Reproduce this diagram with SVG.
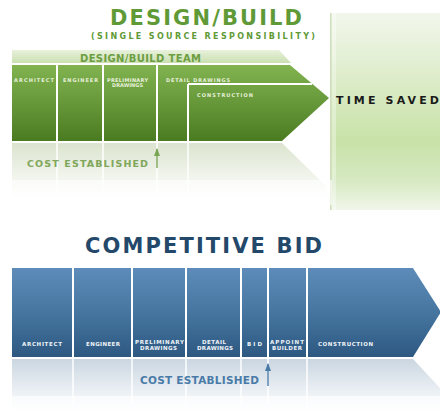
<svg xmlns="http://www.w3.org/2000/svg" width="440" height="413" viewBox="0 0 440 413">
<defs>
<linearGradient id="gPanel" x1="0" y1="0" x2="0" y2="1">
<stop offset="0" stop-color="#f2f7ec"/>
<stop offset="0.3" stop-color="#dfedcd"/>
<stop offset="0.65" stop-color="#c8e2a8"/>
<stop offset="0.85" stop-color="#d6e9c2"/>
<stop offset="1" stop-color="#f1f6ea"/>
</linearGradient>
<linearGradient id="gBand" x1="0" y1="0" x2="0" y2="1">
<stop offset="0" stop-color="#e8f1dc"/>
<stop offset="1" stop-color="#cadfb0"/>
</linearGradient>
<linearGradient id="gGreen" x1="0" y1="0" x2="0" y2="1">
<stop offset="0" stop-color="#82b350"/>
<stop offset="0.5" stop-color="#66983a"/>
<stop offset="1" stop-color="#4b7b20"/>
</linearGradient>
<linearGradient id="gGreenRef" x1="0" y1="0" x2="0" y2="1">
<stop offset="0" stop-color="#dbe4cf"/>
<stop offset="0.5" stop-color="#eef2e8"/>
<stop offset="1" stop-color="#ffffff"/>
</linearGradient>
<linearGradient id="gBlue" x1="0" y1="0" x2="0" y2="1">
<stop offset="0" stop-color="#5d8cba"/>
<stop offset="0.5" stop-color="#46769f"/>
<stop offset="1" stop-color="#2d5882"/>
</linearGradient>
<linearGradient id="gBlueRef" x1="0" y1="0" x2="0" y2="1">
<stop offset="0" stop-color="#cbd6e1"/>
<stop offset="0.5" stop-color="#e6ecf1"/>
<stop offset="1" stop-color="#ffffff"/>
</linearGradient>
<marker id="upG" viewBox="0 0 8 6" refX="7" refY="3" markerWidth="8" markerHeight="6" markerUnits="userSpaceOnUse" orient="auto">
<path d="M0,0 L8,3 L0,6 Z" fill="#7aa552"/>
</marker>
<marker id="upB" viewBox="0 0 8 6" refX="7" refY="3" markerWidth="8" markerHeight="6" markerUnits="userSpaceOnUse" orient="auto">
<path d="M0,0 L8,3 L0,6 Z" fill="#4a7ba8"/>
</marker>
</defs>
<style>
text { font-family: "DejaVu Sans", "Liberation Sans", sans-serif; font-weight: bold; }
.gTitle { fill: #5f9a37; }
.bTitle { fill: #24486a; }
.lblG { fill: #e6f0da; font-size: 5px; }
.lblB { fill: #eef3f8; font-size: 5.5px; }
.sep { stroke: #ffffff; stroke-width: 2; }
.sepF { stroke: #ffffff; stroke-width: 2; opacity: 0.75; }
.costG { fill: #7fa65a; font-size: 9.5px; }
.costB { fill: #4a7ba8; font-size: 10.5px; }
</style>

<rect width="440" height="413" fill="#ffffff"/>

<g id="time-saved-panel">
<rect x="330" y="13" width="110" height="197" fill="url(#gPanel)"/>
<rect x="330" y="13" width="1.5" height="197" fill="#cfdfbe"/>
<rect x="332" y="13" width="4" height="197" fill="#ffffff" opacity="0.35"/>
<text x="336" y="104" font-size="11" fill="#1a1a1a" textLength="103" lengthAdjust="spacing">TIME SAVED</text>
</g>

<g id="design-build-title">
<text class="gTitle" x="110" y="25" font-size="21" textLength="192" lengthAdjust="spacing">DESIGN/BUILD</text>
<text class="gTitle" x="91" y="38.5" font-size="8" textLength="224" lengthAdjust="spacing">(SINGLE SOURCE RESPONSIBILITY)</text>
</g>

<g id="design-build-team">
<path d="M12,50 L279,50 L291,63 L12,63 Z" fill="url(#gBand)"/>
<text x="80" y="61.5" font-size="10" fill="#6c9e42" textLength="121" lengthAdjust="spacing">DESIGN/BUILD TEAM</text>
</g>

<g id="design-build-reflection">
<path d="M12,143 L282,143 L326,186 L326,200 L12,200 Z" fill="url(#gGreenRef)"/>
<line class="sepF" x1="57" y1="143" x2="57" y2="192"/>
<line class="sepF" x1="103" y1="143" x2="103" y2="192"/>
<line class="sepF" x1="157" y1="143" x2="157" y2="192"/>
<line class="sepF" x1="188" y1="143" x2="188" y2="192"/>
<rect x="12" y="180" width="320" height="25" fill="#ffffff" opacity="0.6"/>
<text class="costG" x="27" y="166.5" textLength="121" lengthAdjust="spacing">COST ESTABLISHED</text>
</g>

<g id="design-build-arrow">
<path d="M12,65 L290,65 L329,98 L282,141 L12,141 Z" fill="url(#gGreen)"/>
<line class="sep" x1="57" y1="65" x2="57" y2="141"/>
<line class="sep" x1="103" y1="65" x2="103" y2="141"/>
<line class="sep" x1="157" y1="65" x2="157" y2="141"/>
<line class="sep" x1="188" y1="84" x2="188" y2="141"/>
<line class="sep" x1="188" y1="84" x2="312" y2="84" stroke-width="1.6"/>
</g>

<g id="node-architect-g"><text class="lblG" x="14" y="81.5" textLength="40" lengthAdjust="spacing">ARCHITECT</text></g>
<g id="node-engineer-g"><text class="lblG" x="63" y="81.5" textLength="35" lengthAdjust="spacing">ENGINEER</text></g>
<g id="node-prelim-g">
<text class="lblG" x="107" y="81.5" textLength="41" lengthAdjust="spacing">PRELIMINARY</text>
<text class="lblG" x="112" y="87.3" textLength="31" lengthAdjust="spacing">DRAWINGS</text>
</g>
<g id="node-detail-g"><text class="lblG" x="166" y="81.5" textLength="64" lengthAdjust="spacing">DETAIL DRAWINGS</text></g>
<g id="node-construction-g"><text class="lblG" x="197" y="96.7" textLength="56" lengthAdjust="spacing">CONSTRUCTION</text></g>

<g id="competitive-bid-title">
<text class="bTitle" x="85" y="253" font-size="21" textLength="237" lengthAdjust="spacing">COMPETITIVE BID</text>
</g>

<g id="competitive-bid-reflection">
<path d="M12,359 L413,359 L440,388 L440,413 L12,413 Z" fill="url(#gBlueRef)"/>
<line class="sepF" x1="73" y1="359" x2="73" y2="406"/>
<line class="sepF" x1="132" y1="359" x2="132" y2="406"/>
<line class="sepF" x1="186" y1="359" x2="186" y2="406"/>
<line class="sepF" x1="241" y1="359" x2="241" y2="406"/>
<line class="sepF" x1="268" y1="359" x2="268" y2="406"/>
<line class="sepF" x1="307" y1="359" x2="307" y2="406"/>
<rect x="12" y="396" width="428" height="17" fill="#ffffff" opacity="0.6"/>
<text class="costB" x="140" y="384" textLength="119" lengthAdjust="spacing">COST ESTABLISHED</text>
</g>

<g id="competitive-bid-arrow">
<path d="M12,268 L413,268 L441,312 L413,357 L12,357 Z" fill="url(#gBlue)"/>
<line class="sep" x1="73" y1="268" x2="73" y2="357"/>
<line class="sep" x1="132" y1="268" x2="132" y2="357"/>
<line class="sep" x1="186" y1="268" x2="186" y2="357"/>
<line class="sep" x1="241" y1="268" x2="241" y2="357"/>
<line class="sep" x1="268" y1="268" x2="268" y2="357"/>
<line class="sep" x1="307" y1="268" x2="307" y2="357"/>
</g>

<g id="node-architect-b"><text class="lblB" x="22" y="346" textLength="40" lengthAdjust="spacing">ARCHITECT</text></g>
<g id="node-engineer-b"><text class="lblB" x="86" y="346" textLength="34" lengthAdjust="spacing">ENGINEER</text></g>
<g id="node-prelim-b">
<text class="lblB" x="135" y="344" textLength="49" lengthAdjust="spacing">PRELIMINARY</text>
<text class="lblB" x="140" y="349.5" textLength="37" lengthAdjust="spacing">DRAWINGS</text>
</g>
<g id="node-detail-b">
<text class="lblB" x="202" y="344" textLength="24" lengthAdjust="spacing">DETAIL</text>
<text class="lblB" x="197" y="349.5" textLength="36" lengthAdjust="spacing">DRAWINGS</text>
</g>
<g id="node-bid-b"><text class="lblB" x="247" y="346" textLength="15" lengthAdjust="spacing">BID</text></g>
<g id="node-appoint-b">
<text class="lblB" x="270" y="344" textLength="34" lengthAdjust="spacing">APPOINT</text>
<text class="lblB" x="272" y="349.5" textLength="30" lengthAdjust="spacing">BUILDER</text>
</g>
<g id="node-construction-b"><text class="lblB" x="318" y="346" textLength="55" lengthAdjust="spacing">CONSTRUCTION</text></g>

<g id="connectors">
<line x1="157" y1="168" x2="157" y2="149" stroke="#7aa552" stroke-width="1.4" marker-end="url(#upG)"/>
<line x1="268" y1="386" x2="268" y2="364" stroke="#4a7ba8" stroke-width="1.4" marker-end="url(#upB)"/>
</g>
</svg>
